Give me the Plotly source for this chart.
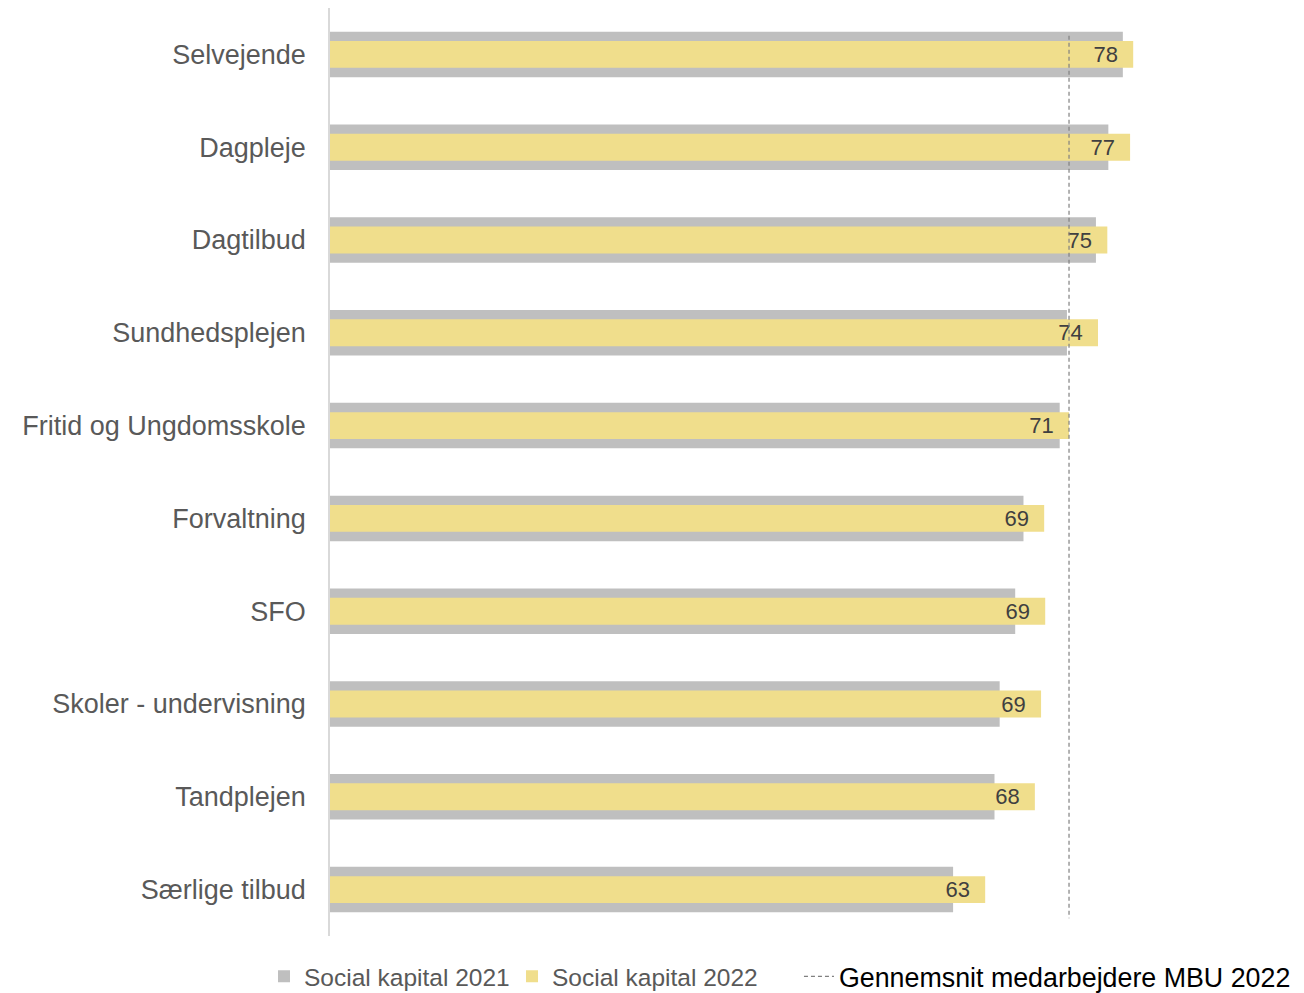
import plotly.graph_objects as go

# Units, top to bottom
categories = [
    "Selvejende",
    "Dagpleje",
    "Dagtilbud",
    "Sundhedsplejen",
    "Fritid og Ungdomsskole",
    "Forvaltning",
    "SFO",
    "Skoler - undervisning",
    "Tandplejen",
    "Særlige tilbud",
]

# Social capital scores
social_2021 = [76.6, 75.2, 74.0, 71.2, 70.5, 67.0, 66.2, 64.7, 64.2, 60.2]
social_2022 = [77.6, 77.3, 75.1, 74.2, 71.4, 69.0, 69.1, 68.7, 68.1, 63.3]

# Average for MBU staff 2022
mbu_average_2022 = 71.4

series_names = ["Social kapital 2021", "Social kapital 2022",
                "Gennemsnit medarbejdere MBU 2022"]

GREY = "#BFBFBF"
YELLOW = "#F0DE8C"
TEXT = "#595959"
FONT = "Liberation Sans, Arial, sans-serif"

fig = go.Figure()

fig.add_trace(go.Bar(
    y=categories, x=social_2021, orientation="h",
    name=series_names[0], marker=dict(color=GREY, line=dict(width=0)),
    width=0.49, hoverinfo="x+y", legend="legend",
))

fig.add_trace(go.Bar(
    y=categories, x=social_2022, orientation="h",
    name=series_names[1], marker=dict(color=YELLOW, line=dict(width=0)),
    width=0.29,
    texttemplate="%{x:.0f}\u00a0\u00a0",
    textposition="inside", insidetextanchor="end", textangle=0,
    constraintext="none",
    insidetextfont=dict(family=FONT, size=22, color="#404040"),
    hoverinfo="x+y", legend="legend2",
))

# Vertical average line, drawn on a hidden numeric axis over the categories
fig.add_trace(go.Scatter(
    x=[mbu_average_2022, mbu_average_2022], y=[-0.2, 9.31],
    yaxis="y2", mode="lines",
    line=dict(color="#808080", width=1.2, dash="4px,3px"),
    name=series_names[2],
    hoverinfo="skip", legend="legend3",
))

legend_common = dict(
    orientation="h", yanchor="middle", y=-0.0435, xanchor="left",
    itemwidth=30, bgcolor="rgba(0,0,0,0)",
)

fig.update_layout(
    width=1304, height=993,
    margin=dict(l=330, r=14, t=8, b=57, autoexpand=False),
    paper_bgcolor="white", plot_bgcolor="white",
    barmode="overlay",
    font=dict(family=FONT, color=TEXT),
    xaxis=dict(range=[0, 92.75], visible=False, fixedrange=True),
    yaxis=dict(
        type="category", autorange="reversed",
        showline=True, linecolor="#D9D9D9", linewidth=1.5,
        showgrid=False, zeroline=False, ticks="",
        ticklabelstandoff=17,
        tickfont=dict(family=FONT, size=27, color=TEXT),
    ),
    yaxis2=dict(overlaying="y", range=[9.5, -0.5], visible=False),
    showlegend=True,
    legend=dict(x=-0.06875, font=dict(family=FONT, size=24.5, color=TEXT),
                **legend_common),
    legend2=dict(x=0.1896, font=dict(family=FONT, size=24.5, color=TEXT),
                 **legend_common),
    legend3=dict(x=0.4885, font=dict(family=FONT, size=26.8, color="#000000"),
                 **legend_common),
)

fig.write_html("out.html")
